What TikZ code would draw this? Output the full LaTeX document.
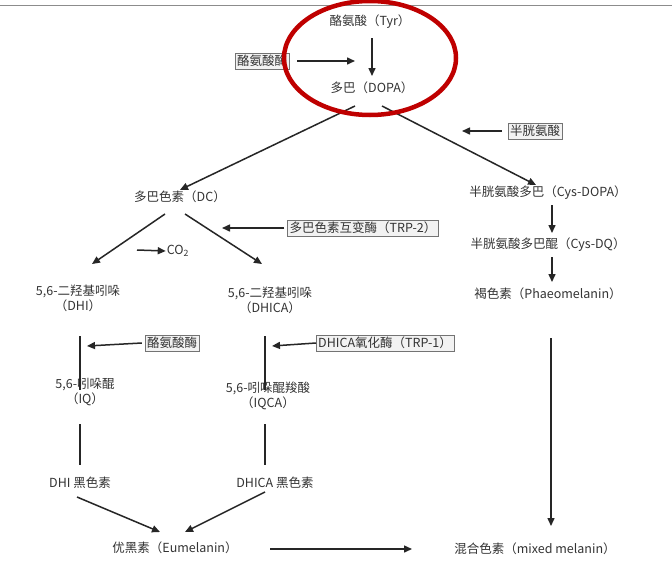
\documentclass[tikz,border=0pt]{standalone}
\usepackage{fontspec}
\newfontfamily\cjk{Noto Sans CJK SC}
\usetikzlibrary{arrows.meta,calc}
\begin{document}
\begin{tikzpicture}[x=1pt,y=-1pt,
  t/.style={font=\cjk\fontsize{12.5}{15}\selectfont, inner sep=1pt, align=center, text=black!80},
  enz/.style={t, draw=black!55, fill=black!5, inner sep=2pt},
  arr/.style={-{Triangle[length=8pt,width=7pt]}, line width=1.5pt, black!85},
  ln/.style={line width=1.5pt, black!85}]
\useasboundingbox (0,0) rectangle (672,562);
\fill[white] (0,0) rectangle (672,562);
\draw[black!45, line width=1pt] (0,5) -- (672,5);
\node[t] (tyr) at (370,22) {酪氨酸（Tyr）};
\node[t] (dopa) at (372,88) {多巴（DOPA）};
\node[enz] (e1) at (262,61) {酪氨酸酶};
\coordinate (tyrb) at (372,38);
\coordinate (dopat) at (372,76);
\draw[arr] (tyrb) -- (dopat);
\coordinate (e1h) at (355,61);
\draw[arr] ($(e1.east)+(8,0)$) -- (e1h);
\node[t] (dc) at (180,197) {多巴色素（DC）};
\node[t] (cd) at (548,193) {半胱氨酸多巴（Cys-DOPA）};
\draw[arr] (355,106) -- (dc.north);
\draw[arr] (382,106) -- ($(cd.north)+(-12,0)$);
\node[enz] (e2) at (535,131) {半胱氨酸};
\draw[arr] ($(e2.west)+(-6,0)$) -- (462,131);
\node[t] (cdq) at (548,245) {半胱氨酸多巴醌（Cys-DQ）};
\draw[arr] (552,205) -- (552,233);
\node[t] (ph) at (548,294) {褐色素（Phaeomelanin）};
\draw[arr] (552,257) -- (552,282);
\node[t] (dhi) at (78,298) {5,6-二羟基吲哚\\（DHI）};
\node[t] (dhica) at (270,300) {5,6-二羟基吲哚\\（DHICA）};
\draw[arr] (165,214) -- (92,264);
\draw[arr] (185,214) -- (262,264);
\node[t] (co2) at (178,251) {CO\textsubscript{2}};
\draw[arr] (137,250) -- (co2.west);
\node[enz] (e3) at (363,228) {多巴色素互变酶（TRP-2）};
\draw[arr] ($(e3.west)+(-3,0)$) -- (222,228);
\node[t] (iq) at (85,392) {5,6-吲哚醌\\（IQ）};
\node[t] (iqca) at (268,396) {5,6-吲哚醌羧酸\\（IQCA）};
\draw[ln] (80,336) -- (80,390);
\draw[ln] (265,336) -- (265,390);
\node[enz] (e4) at (172,343) {酪氨酸酶};
\draw[arr] ($(e4.west)+(-3,0)$) -- (87,346);
\node[enz] (e5) at (385,343) {DHICA氧化酶（TRP-1）};
\draw[arr] (e5.west) -- (272,346);
\node[t] (dm) at (80,483) {DHI 黑色素};
\node[t] (dcm) at (275,483) {DHICA 黑色素};
\draw[ln] (80,424) -- (80,465);
\draw[ln] (265,424) -- (265,465);
\node[t] (eu) at (175,548) {优黑素（Eumelanin）};
\node[t] (mix) at (535,549) {混合色素（mixed melanin）};
\draw[arr] (77,497) -- (160,532);
\draw[arr] (265,492) -- (185,532);
\draw[arr] (270,549) -- (412,549);
\draw[arr] (551,338) -- (551,526);
\draw[red!75!black, line width=4.5pt] (370,58) ellipse (86 and 57);
\end{tikzpicture}
\end{document}
